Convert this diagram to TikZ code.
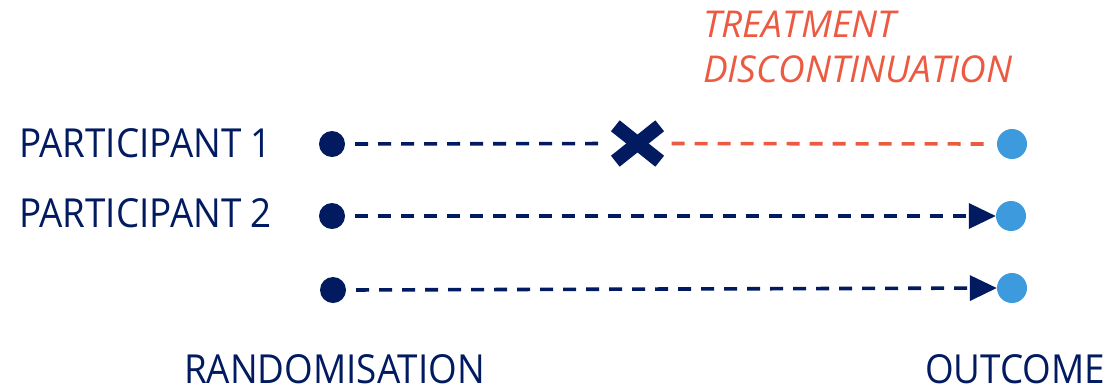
\documentclass[tikz,border=0pt]{standalone}
\usepackage{fontspec}
\setmainfont{Open Sans}
\newfontfamily\labelfont{Open Sans}[FakeStretch=0.92]
\usepackage{tikz}
\usetikzlibrary{positioning,calc,arrows.meta}
\definecolor{Navy}{HTML}{011A60}
\definecolor{SkyBlue}{HTML}{3D9BDD}
\definecolor{Coral}{HTML}{EC5A42}

\begin{document}
\begin{tikzpicture}[
	x=1pt, y=-1pt,
	startdot/.style={circle, fill=Navy, minimum size=26pt, inner sep=0pt},
	enddot/.style={circle, fill=SkyBlue, minimum size=30pt, inner sep=0pt},
	track/.style={line width=3.6pt, dash pattern=on 13pt off 10pt},
	label/.style={inner sep=0pt, anchor=base west, text=Navy, font=\labelfont\fontsize{40}{48}\selectfont}
	]
	\useasboundingbox (0,0) rectangle (1110,384);
	
	% start and end points
	\node[startdot] (start1) at (332,144) {};
	\node[startdot] (start2) at (332,216) {};
	\node[startdot] (start3) at (333,290) {};
	\node[enddot] (end1) at (1012,144) {};
	\node[enddot] (end2) at (1011,216) {};
	\node[enddot] (end3) at (1012,288) {};
	
	% discontinuation mark
	\node[minimum width=44pt, minimum height=35pt, inner sep=0pt] (stop) at (637.5,143.5) {};
	\draw[Navy, line width=14pt] (stop.north west) -- (stop.south east);
	\draw[Navy, line width=14pt] (stop.south west) -- (stop.north east);
	
	% tracks
	\draw[track, Navy, shorten <=10pt, shorten >=10pt] (start1.east) -- (stop.west);
	\draw[track, Coral, shorten <=12pt, shorten >=9pt] (stop.east) -- (end1.west);
	\draw[track, Navy, shorten <=10pt, -{Triangle[length=27pt, width=25pt]}] (start2.east) -- (end2.west);
	\draw[track, Navy, shorten <=10pt, -{Triangle[length=27pt, width=25pt]}] (start3.east) -- (end3.west);
	
	% labels
	\node[label] (p1) at (19,157) {PARTICIPANT 1};
	\node[label] (p2) at (19,227) {PARTICIPANT 2};
	\node[label] (rand) at (184,383) {RANDOMISATION};
	\node[label] (outc) at (925,383) {OUTCOME};
	\node[
	inner sep=0pt,
	anchor=base west,
	align=left,
	text=Coral,
	font=\fontsize{37}{45}\selectfont\itshape
	] (disc) at (703,82) {TREATMENT\\DISCONTINUATION};
\end{tikzpicture}
\end{document}
